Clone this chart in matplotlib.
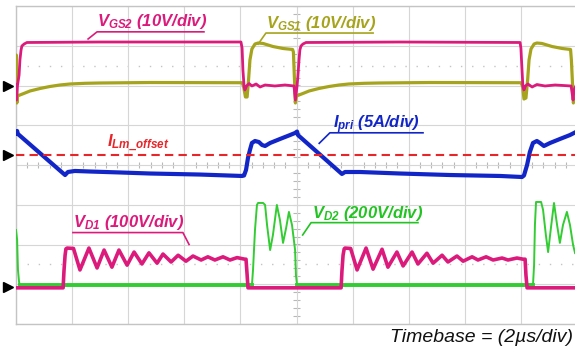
import numpy as np
import matplotlib
matplotlib.use("Agg")
import matplotlib.pyplot as plt

plt.rcParams['mathtext.fontset'] = 'custom'
plt.rcParams['mathtext.rm'] = 'Liberation Sans:bold:italic'
plt.rcParams['mathtext.it'] = 'Liberation Sans:bold:italic'
plt.rcParams['mathtext.bf'] = 'Liberation Sans:bold:italic'

# ---------------- data (time in us, values in physical units) ----------------
t_vgs2 = [0.00, 0.02, 0.05, 0.11, 0.14, 0.18, 0.21, 0.29, 0.39, 2.99, 8.02, 8.06, 8.09,
          8.13, 8.16, 8.22, 8.31, 8.41, 8.56, 8.70, 8.88, 9.23, 9.59, 9.91, 9.96, 10.02,
          10.05, 10.09, 10.12, 10.16, 10.23, 10.34, 13.69, 17.97, 18.00, 18.04, 18.07,
          18.11, 18.16, 18.25, 18.40, 18.57, 18.86, 19.22, 19.79, 19.86, 19.89, 19.96]
v_gs2 = [0.13, -3.65, -0.12, 2.64, 6.42, 8.93, 9.94, 10.44, 10.82, 10.94, 10.94, 9.43, 3.90,
         -0.12, -1.13, -0.12, 0.50, -0.12, 0.38, -0.38, 0.13, -0.12, 0.13, -0.12, -3.65, -0.12,
         2.39, 6.42, 8.93, 9.94, 10.44, 10.82, 10.94, 10.82, 9.43, 3.90, -0.12,
         -1.13, -0.12, 0.38, -0.38, 0.25, -0.12, 0.13, -0.12, -3.65, -1.13, -0.12]

t_vgs1 = [0.00, 0.01, 0.03, 0.05, 0.14, 0.32, 0.50, 0.86, 1.21, 1.57, 1.93, 2.46, 2.99, 4.78,
          8.06, 8.11, 8.18, 8.24, 8.29, 8.34, 8.41, 8.52, 8.63, 8.81, 9.16, 9.52, 9.86, 9.89,
          9.96, 10.00, 10.09, 10.27, 10.45, 10.80, 11.16, 11.52, 11.87, 12.41, 12.94, 14.76,
          18.00, 18.06, 18.11, 18.18, 18.24, 18.29, 18.36, 18.47, 18.57, 18.75, 19.11, 19.47,
          19.77, 19.80, 19.84, 19.87, 19.93]
v_gs1 = [0.13, 7.67, -4.40, -2.64, -2.39, -1.89, -1.38, -0.75, -0.25, 0.13, 0.38, 0.55, 0.63, 0.75,
         0.70, -0.12, -2.89, -2.89, 1.40, 6.42, 9.18, 10.44, 10.69, 10.57, 9.81, 9.31, 9.06, 8.42,
         -4.40, -2.64, -2.39, -1.89, -1.38, -0.75, -0.25, 0.13, 0.38, 0.55, 0.63, 0.75,
         0.70, -0.12, -3.40, -3.14, 1.40, 6.42, 9.18, 10.44, 10.69, 10.57, 9.81, 9.31,
         9.06, 6.42, 0.38, -4.40, -2.64]

t_ipri = [0.00, 0.04, 0.07, 1.75, 1.85, 2.10, 2.64, 3.71, 4.78, 6.56, 8.06, 8.13, 8.20, 8.27,
          8.34, 8.41, 8.52, 8.66, 8.77, 8.88, 9.06, 9.41, 9.77, 9.95, 10.02, 10.05, 11.62,
          11.73, 12.26, 13.69, 15.47, 17.26, 18.04, 18.11, 18.22, 18.32, 18.43, 18.57, 18.68,
          18.82, 19.04, 19.39, 19.75, 19.96]
i_pri = [2.78, 3.03, 2.65, -2.51, -2.13, -2.00, -2.07, -2.19, -2.32, -2.45, -2.63, -2.57, -1.88, -0.37,
         0.64, 1.52, 1.77, 1.64, 1.27, 1.14, 1.52, 2.02, 2.52, 2.78, 2.96, 2.52, -2.38,
         -2.13, -2.13, -2.32, -2.51, -2.63, -2.76, -2.57, -1.25, 0.39, 1.52, 1.77, 1.52,
         1.14, 1.52, 2.02, 2.52, 2.90]
i_lm_offset = 0.0

t_vd1 = [0.00, 1.68, 1.71, 1.75, 1.78, 1.82, 2.05, 2.28, 2.60, 2.89, 3.14, 3.42, 3.67, 3.96,
         4.21, 4.49, 4.74, 5.03, 5.24, 5.53, 5.78, 6.06, 6.31, 6.60, 6.84, 7.09, 7.38, 7.63,
         7.88, 8.16, 8.20, 8.24, 8.27, 11.59, 11.62, 11.66, 11.70, 11.73, 11.93, 12.16, 12.48,
         12.73, 13.05, 13.26, 13.58, 13.80, 14.12, 14.33, 14.65, 14.87, 15.19, 15.40, 15.72,
         15.94, 16.26, 16.47, 16.76, 17.01, 17.33, 17.54, 17.86, 18.08, 18.15, 18.18, 18.22, 20.0]
v_d1 = [-2, -2, 40, 80, 96, 98, 97, 43, 98, 48, 93, 50, 93, 55,
        88, 58, 86, 60, 83, 63, 80, 65, 78, 68, 76, 68, 76, 68,
        74, 70, 70, 30, -2, -2, 40, 80, 96, 98, 97, 43, 98,
        45, 95, 50, 88, 53, 88, 58, 85, 60, 80, 63, 78,
        65, 76, 68, 76, 68, 73, 68, 73, 70, 70, 30, -2, -2]

t_vd2 = [0.00, 0.04, 0.07, 0.11, 0.14, 8.41, 8.45, 8.52, 8.59, 8.63, 8.81, 8.88, 8.95, 9.06,
         9.16, 9.30, 9.41, 9.52, 9.63, 9.73, 9.84, 9.95, 9.98, 10.02, 18.43, 18.47, 18.50,
         18.54, 18.72, 18.79, 18.89, 18.97, 19.07, 19.18, 19.29, 19.39, 19.50, 19.64, 19.75,
         19.86, 19.93]
v_d2 = [287, 237, 86, 25, 8, 8, 86, 287, 413, 423, 423, 413, 312, 186,
        262, 413, 337, 222, 297, 378, 312, 186, 61, 8, 8, 111, 312,
        428, 428, 388, 262, 176, 297, 423, 312, 222, 312, 378, 312,
        212, 171]

# ---------------- scope display settings ----------------
VGS_SCALE, VGS_POS = 10.0, 2.0
I_SCALE, I_POS = 5.0, 0.25
VD1_SCALE, VD2_SCALE, VD_POS = 100.0, 200.0, -3.07

MAG = '#dc1a7c'
OLV = '#a6a41c'
BLU = '#1226c8'
RED = '#e8262a'
GRN = '#33cc33'
GRN_T = '#22c322'

fig = plt.figure(figsize=(5.75, 3.56), dpi=100)
ax = fig.add_axes([16/575, 32/356, 561/575, 318/356])
ax.set_xlim(0, 20)
ax.set_ylim(-4, 4)
ax.set_xticks(np.arange(0, 21, 2))
ax.set_yticks(np.arange(-4, 5, 1))
ax.grid(color='#d6d6d6', lw=0.8)
ax.tick_params(length=0, labelbottom=False, labelleft=False)
for s in ax.spines.values():
    s.set_color('#c4c4c4')
    s.set_linewidth(1.0)
ax.set_axisbelow(True)

# center ticks
ax.vlines(np.arange(0, 20.01, 0.4), -0.075, 0.075, color='#b8b8b8', lw=0.8, zorder=0.5)
ax.hlines(np.arange(-4, 4.01, 0.2), 10 - 0.11, 10 + 0.11, color='#b8b8b8', lw=0.8, zorder=0.5)
for yy in (2.5, -2.5):
    ax.axhline(yy, color='#c4c4c4', lw=1.0, ls=(0, (1, 7)), zorder=0.5)

tv1 = np.array(t_vgs1); vv1 = VGS_POS + np.array(v_gs1) / VGS_SCALE
tv2 = np.array(t_vgs2); vv2 = VGS_POS + np.array(v_gs2) / VGS_SCALE
ax.plot(tv1, vv1, color=OLV, lw=2.3, zorder=3)
ax.plot(tv2, vv2, color=MAG, lw=2.0, zorder=4)

ax.plot(t_ipri, I_POS + np.array(i_pri) / I_SCALE, color=BLU, lw=3.0, zorder=3)
ax.axhline(I_POS + i_lm_offset / I_SCALE, color=RED, lw=1.5, ls=(0, (4, 2.5)), zorder=5)

vd2 = np.array(v_d2, dtype=float)
yd2 = VD_POS + vd2 / VD2_SCALE
ax.plot(t_vd2, yd2, color=GRN, lw=1.4, zorder=3)
low = np.where(vd2 < 20, yd2, np.nan)
ax.plot(t_vd2, low, color=GRN, lw=2.8, zorder=3)
ax.plot(t_vd1, VD_POS + np.array(v_d1) / VD1_SCALE, color=MAG, lw=2.6, zorder=4)

# ground markers
for pos in (VGS_POS, I_POS, VD_POS):
    ax.plot([-0.29], [pos], marker='>', ms=7.5, color='black', clip_on=False, zorder=6)

# labels
kw = dict(fontsize=12, fontweight='bold', style='italic', family='Liberation Sans',
          va='baseline', zorder=7)
ax.text(2.89, 3.50, r'$V_{GS2}$ (10V/div)', color=MAG, **kw)
ax.plot([2.57, 2.89, 6.70], [3.17, 3.35, 3.35], color=MAG, lw=1.2, zorder=7)

ax.text(8.91, 3.45, r'$V_{GS1}$ (10V/div)', color=OLV, **kw)
ax.plot([8.63, 8.91, 12.73], [3.04, 3.32, 3.32], color=OLV, lw=1.2, zorder=7)

ax.text(11.30, 0.93, r'$I_{pri}$ (5A/div)', color=BLU, **kw)
ax.plot([10.81, 11.19, 14.51], [0.545, 0.81, 0.81], color=BLU, lw=1.2, zorder=7)

ax.text(3.24, 0.45, r'$I_{Lm\_offset}$', color=RED, **kw)

ax.text(2.03, -1.56, r'$V_{D1}$ (100V/div)', color=MAG, **kw)
ax.plot([2.03, 5.95, 6.17], [-1.70, -1.70, -2.00], color=MAG, lw=1.2, zorder=7)

ax.text(10.55, -1.33, r'$V_{D2}$ (200V/div)', color=GRN_T, **kw)
ax.plot([10.22, 10.52, 14.33], [-1.76, -1.45, -1.45], color=GRN_T, lw=1.2, zorder=7)

fig.text(573/575, 1 - 342/356, 'Timebase = (2µs/div)', ha='right', va='baseline',
         fontsize=14, style='italic', family='Liberation Sans', color='#111111')

fig.savefig('out.png', dpi=100)
